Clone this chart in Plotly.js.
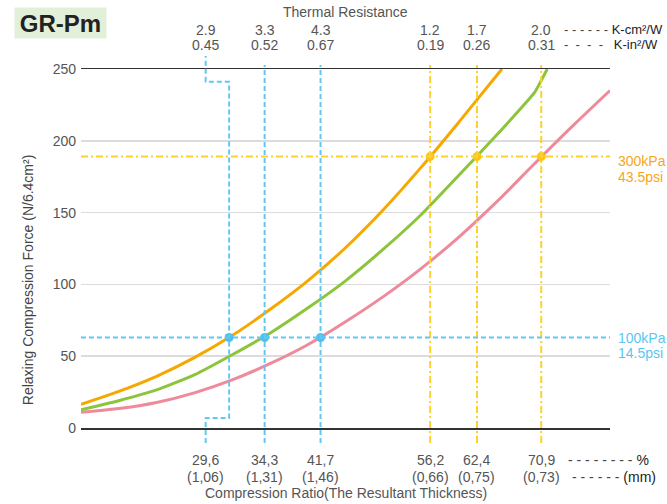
<!DOCTYPE html>
<html><head><meta charset="utf-8">
<script src="https://cdn.plot.ly/plotly-3.0.1.min.js"></script>
<style>html,body{margin:0;padding:0;background:#fff}#chart{width:667px;height:504px}</style>
</head><body><div id="chart"></div>
<script>
// ---- data ----
const ratio = [29.6, 34.3, 41.7, 56.2, 62.4, 70.9];           // compression ratio %
const ratioLabels = ['29,6', '34,3', '41,7', '56,2', '62,4', '70,9'];
const thickLabels = ['(1,06)', '(1,31)', '(1,46)', '(0,66)', '(0,75)', '(0,73)'];
const trKcm = ['2.9', '3.3', '4.3', '1.2', '1.7', '2.0'];        // K-cm²/W
const trKin = ['0.45', '0.52', '0.67', '0.19', '0.26', '0.31'];  // K-in²/W
const force100kPa = 63;
const force300kPa = 189;

const orangeX = [10, 15, 20, 25, 30, 35, 40, 45, 50, 55, 60, 65, 65.7];
const orangeY = [16.5, 25.5, 36, 49, 64.4, 82.5, 102.5, 125.5, 152, 181.5, 213, 245.5, 250];
const greenX = [10, 15, 20, 25, 30, 35, 40, 45, 50, 55, 60, 65, 70, 70.9, 71.7];
const greenY = [12.7, 19, 26.5, 37, 51, 66, 83.5, 102.5, 124.5, 148.5, 176, 204, 233.5, 242, 250];
const pinkX = [10, 15, 20, 25, 30, 35, 40, 45, 50, 55, 60, 65, 70, 75, 80];
const pinkY = [10.9, 13.5, 17.8, 24.5, 33.5, 44.8, 58, 74, 91.5, 111, 133, 157.5, 184, 210, 235];

// ---- styles ----
const ORANGE = '#f6a800', GREEN = '#8cc43c', PINK = '#ee8a9b';
const BLUE = '#62c8f2', YELLOW = '#fdd22e';
const FONT = 'Liberation Sans, Arial, sans-serif';

const traces = [
  {x: pinkX, y: pinkY, mode: 'lines', line: {color: PINK, width: 3, shape: 'spline', smoothing: 1}},
  {x: greenX, y: greenY, mode: 'lines', line: {color: GREEN, width: 3, shape: 'spline', smoothing: 0.5}},
  {x: orangeX, y: orangeY, mode: 'lines', line: {color: ORANGE, width: 3, shape: 'spline', smoothing: 1}},
  {x: ratio.slice(0, 3), y: ratio.slice(0, 3).map(() => force100kPa), mode: 'markers',
   marker: {color: '#4dbff0', size: 9}, cliponaxis: false},
  {x: ratio.slice(3), y: ratio.slice(3).map(() => force300kPa), mode: 'markers',
   marker: {color: '#fcc419', size: 9}, cliponaxis: false}
];

const pyTop = 1.0111, pyBot = -0.0418;
const shapes = [];
ratio.forEach((r, i) => {
  const isBlue = i < 3;
  const line = {color: isBlue ? BLUE : YELLOW, width: 2, dash: isBlue ? '5px,3px' : '7px,3px,2px,3px'};
  if (i === 0) {
    const off = r - 3.1;
    shapes.push({type: 'path', xref: 'x', yref: 'paper', line: line,
      path: `M${off},${pyBot} L${off},0.0279 L${r},0.0279 L${r},0.9646 L${off},0.9646 L${off},1.0362`});
  } else {
    shapes.push({type: 'line', xref: 'x', yref: 'paper', x0: r, x1: r, y0: pyBot, y1: pyTop, line: line});
  }
});
shapes.push({type: 'line', xref: 'paper', yref: 'y', x0: 0, x1: 1, y0: force100kPa, y1: force100kPa,
  line: {color: BLUE, width: 2, dash: '5px,3px'}});
shapes.push({type: 'line', xref: 'paper', yref: 'y', x0: 0, x1: 1, y0: force300kPa, y1: force300kPa,
  line: {color: YELLOW, width: 2, dash: '7px,3px,2px,3px'}});

const GRAY = '#555';
const FS = 14;
const NB = '\u00a0';
const ann = [];
function A(o) { ann.push(Object.assign({showarrow: false, xanchor: 'center', yanchor: 'middle'}, o)); }
const labelX = ratio.map((r, i) => i === 0 ? r - 3.1 : r);
labelX.forEach((x, i) => {
  A({xref: 'x', yref: 'paper', x: x, y: 1.110, text: trKcm[i], font: {size: FS, color: GRAY}});
  A({xref: 'x', yref: 'paper', x: x, y: 1.0669, text: trKin[i], font: {size: FS, color: GRAY}});
  A({xref: 'x', yref: 'paper', x: x, y: -0.0891, text: ratioLabels[i], font: {size: FS, color: GRAY}});
  A({xref: 'x', yref: 'paper', x: x, y: -0.1365, text: thickLabels[i], font: {size: FS, color: GRAY}});
});
A({xref: 'paper', yref: 'paper', x: 0.5, y: 1.1588, text: 'Thermal Resistance', font: {size: FS, color: GRAY}});
A({xref: 'paper', yref: 'paper', x: 0.5, y: -0.181, text: 'Compression Ratio(The Resultant Thickness)',
  font: {size: FS, color: GRAY}});
A({xref: 'paper', yref: 'paper', x: -0.1, y: 0.412, text: 'Relaxing Compression Force (N/6.4cm²)',
  textangle: -90, font: {size: 14, color: '#444'}});
A({xref: 'paper', yref: 'paper', x: 0.91, y: 1.110, xanchor: 'left',
  text: '<span style="color:#444">- - - - - -' + NB + '</span>K-cm²/W', font: {size: 13, color: '#222'}});
A({xref: 'paper', yref: 'paper', x: 0.91, y: 1.0669, xanchor: 'left',
  text: '<span style="color:#444">-' + NB + NB + '-' + NB + NB + '-' + NB + NB + '-' + NB + NB + NB + '</span>K-in²/W',
  font: {size: 13, color: '#222'}});
A({xref: 'paper', yref: 'paper', x: 0.9168, y: -0.0891, xanchor: 'left',
  text: '<span style="color:#444">- - - - - - - - </span>%', font: {size: FS, color: '#222'}});
A({xref: 'paper', yref: 'paper', x: 0.9244, y: -0.1365, xanchor: 'left',
  text: '<span style="color:#444">- - - - - - </span>(mm)', font: {size: FS, color: '#222'}});
A({xref: 'paper', yref: 'y', x: 1.011, y: force300kPa, yshift: -4, xanchor: 'left',
  text: '300kPa', font: {size: FS, color: '#f6a623'}});
A({xref: 'paper', yref: 'y', x: 1.011, y: force300kPa, yshift: -20, xanchor: 'left',
  text: '43.5psi', font: {size: FS, color: '#f6a623'}});
A({xref: 'paper', yref: 'y', x: 1.011, y: force100kPa, yshift: 0, xanchor: 'left',
  text: '100kPa', font: {size: FS, color: '#5cc6f0'}});
A({xref: 'paper', yref: 'y', x: 1.011, y: force100kPa, yshift: -15, xanchor: 'left',
  text: '14.5psi', font: {size: FS, color: '#5cc6f0'}});
A({xref: 'paper', yref: 'paper', x: -0.1267, y: 1.1727, xanchor: 'left', yanchor: 'top',
  text: '<b>GR-Pm</b>', bgcolor: '#e2efd9', width: 91, height: 30, borderpad: 0,
  font: {size: 24, color: '#222'}});

const layout = {
  width: 667, height: 504,
  margin: {l: 81, r: 57, t: 69, b: 76},
  paper_bgcolor: '#fff', plot_bgcolor: '#fff',
  font: {family: FONT, color: GRAY},
  showlegend: false,
  xaxis: {range: [10, 80], showgrid: false, zeroline: false, showticklabels: false, ticks: '',
    showline: true, mirror: true, linecolor: '#333', linewidth: 1.5, fixedrange: true},
  yaxis: {range: [0, 250], tickvals: [0, 50, 100, 150, 200, 250], showgrid: true, gridcolor: '#dcdcdc', gridwidth: 1.5,
    zeroline: false, showline: false, ticks: '', ticklabelstandoff: 4, tickfont: {size: FS, color: GRAY}, fixedrange: true},
  shapes: shapes,
  annotations: ann
};
Plotly.newPlot('chart', traces, layout, {displayModeBar: false, staticPlot: true});
</script></body></html>
